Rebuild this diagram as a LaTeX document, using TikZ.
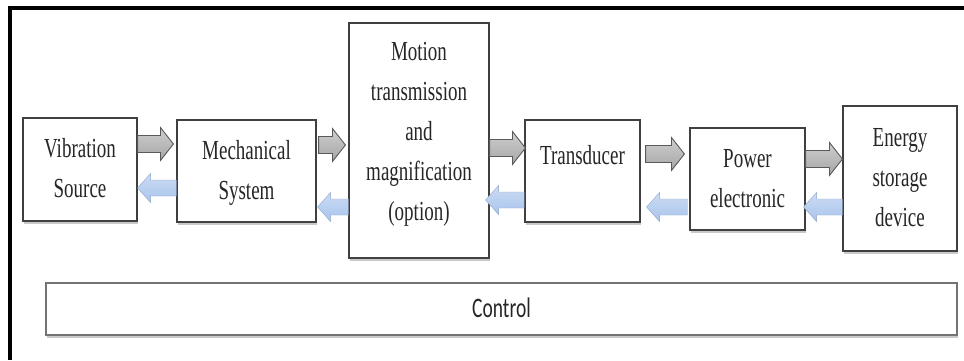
\documentclass[tikz,border=0pt]{standalone}
\usepackage{fontspec}
\usepackage{graphicx}
\setmainfont{Liberation Serif}
\newfontfamily\ctrlfont{Carlito}
\usetikzlibrary{calc,shadows}

\definecolor{fwdgray}{HTML}{A6A6A6}
\definecolor{backblue}{HTML}{A9C4EC}
\definecolor{inktext}{HTML}{262626}

\renewcommand{\arraystretch}{1.2}
\newcommand{\tall}[1]{\scalebox{1}[1.45]{\begin{tabular}{@{}c@{}}#1\end{tabular}}}

\tikzset{
  block/.style={draw=black!75, line width=1.1pt, fill=white, text=inktext,
    font=\fontsize{19}{23}\selectfont, inner sep=0pt,
    drop shadow={shadow xshift=1pt, shadow yshift=-3pt, fill=black!30, opacity=0.7}},
  fat/.style n args={3}{to path={let \p1=(\tikztostart), \p2=(\tikztotarget),
      \p3=($(\x2,\y1)!#3!(\x1,\y1)$) in
      (\x1,\y1+#1) -- (\x3,\y1+#1) -- (\x3,\y1+#2) -- (\x2,\y1)
      -- (\x3,\y1-#2) -- (\x3,\y1-#1) -- (\x1,\y1-#1) -- cycle}},
  fwd/.style={fat={8.5pt}{16.5pt}{13pt}, draw=black!65, line width=0.9pt,
    top color=fwdgray!55, bottom color=fwdgray},
  back/.style={fat={8pt}{14.5pt}{13pt}, draw=backblue!85!black, line width=0.4pt,
    top color=backblue!60, bottom color=backblue}
}

\begin{document}
\begin{tikzpicture}[x=1pt, y=-1pt]
  \useasboundingbox (0,0) rectangle (964,360);

  % frame
  \draw[line width=4pt] (964,8) -- (9.5,8) -- (9.5,360);

  % blocks
  \node[block, minimum width=114pt, minimum height=103pt] (vib) at (80,169.5)
    {\tall{Vibration\\Source}};
  \node[block, minimum width=139pt, minimum height=102pt] (mech) at (246.5,171)
    {\tall{Mechanical\\System}};
  \node[block, minimum width=140pt, minimum height=235pt] (motion) at (419,140.5)
    {\raisebox{1.5pt}[0pt][0pt]{\tall{Motion\\transmission\\and\\magnification\\(option)}}};
  \node[block, minimum width=115pt, minimum height=102pt] (trans) at (582.5,171)
    {\raisebox{8pt}[0pt][0pt]{\tall{Transducer}}};
  \node[block, minimum width=115pt, minimum height=102pt] (power) at (747.5,179)
    {\tall{Power\\electronic}};
  \node[block, minimum width=114pt, minimum height=145pt] (energy) at (900,178.5)
    {\tall{Energy\\storage\\device}};
  \node[block, draw=black!55, line width=2pt, minimum width=911pt, minimum height=52pt,
    font=\ctrlfont\fontsize{19.5}{23}\selectfont] (ctrl) at (501.5,309)
    {\tall{Control}};

  % forward flow
  \draw[fwd] ([yshift=25.5pt]vib.east) to ([xshift=-3pt]mech.west);
  \draw[fwd] ([xshift=2pt,yshift=26pt]mech.east) to ([xshift=-3pt]motion.west);
  \draw[fwd] ([yshift=-7.5pt]motion.east) to ([xshift=1pt]trans.west);
  \draw[fwd] ([xshift=5pt,yshift=17pt]trans.east) to ([xshift=-5pt]power.west);
  \draw[fwd] ([yshift=20pt]power.east) to (energy.west);

  % backward flow
  \draw[back] ([yshift=-17pt]mech.west) to (vib.east);
  \draw[back] ([yshift=-66.5pt]motion.west) to ([xshift=1pt]mech.east);
  \draw[back] ([yshift=-29pt]trans.west) to ([xshift=-4pt]motion.east);
  \draw[back] ([xshift=-2pt,yshift=-28pt]power.west) to ([xshift=6pt]trans.east);
  \draw[back] ([yshift=-28.5pt]energy.west) to ([xshift=-2pt]power.east);
\end{tikzpicture}
\end{document}
